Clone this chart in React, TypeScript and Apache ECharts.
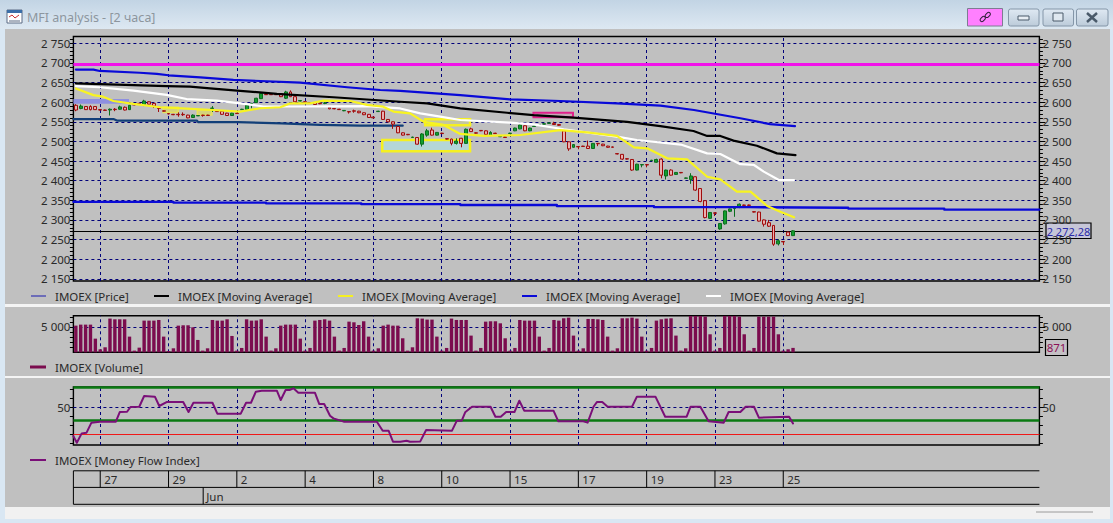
import React, { useEffect, useRef } from "react";
import * as echarts from "echarts";

// ---------- data ----------
const opens = [
  2592,2584,2589,2589,2589,2581,2580,2580,2582,2582,
  2587,2581,2594,2597,2594,2601,2597,2585,2578,2571,
  2569,2569,2569,2567,2561,2565,2567,2567,2584,2577,
  2577,2572,2566,2572,2581,2581,2596,2599,2609,2620,
  2620,2620,2621,2610,2626,2614,2603,2601,2599,2599,
  2597,2597,2587,2584,2582,2578,2576,2578,2577,2573,
  2569,2562,2576,2577,2556,2550,2538,2522,2518,2510,
  2510,2493,2516,2529,2516,2521,2507,2506,2495,2508,
  2495,2532,2522,2528,2527,2515,2521,2512,2511,2520,
  2527,2532,2540,2527,2538,2542,2544,2546,2546,2543,
  2527,2499,2485,2487,2488,2488,2482,2495,2493,2488,
  2486,2469,2467,2456,2454,2427,2440,2441,2451,2447,
  2455,2412,2427,2416,2421,2406,2403,2410,2380,2349,
  2304,2318,2277,2290,2322,2329,2334,2338,2338,2321,
  2320,2300,2293,2286,2239,2245,2269,2260];
const closes = [
  2580,2590,2581,2581,2581,2580,2579,2582,2581,2588,
  2580,2592,2593,2596,2603,2595,2590,2584,2577,2570,
  2568,2568,2568,2560,2567,2566,2566,2566,2585,2576,
  2569,2566,2572,2571,2582,2592,2597,2610,2622,2619,
  2619,2619,2614,2626,2614,2601,2604,2600,2598,2594,
  2596,2598,2583,2583,2581,2579,2575,2577,2573,2568,
  2561,2560,2577,2556,2550,2544,2522,2516,2517,2511,
  2493,2519,2527,2516,2523,2520,2506,2495,2501,2495,
  2531,2525,2521,2527,2518,2523,2520,2513,2510,2521,
  2534,2542,2527,2534,2539,2543,2545,2547,2543,2541,
  2499,2481,2492,2486,2487,2482,2495,2494,2489,2485,
  2485,2468,2455,2455,2427,2442,2441,2440,2452,2454,
  2414,2427,2414,2421,2420,2407,2412,2376,2347,2306,
  2319,2317,2291,2323,2328,2330,2340,2337,2337,2320,
  2297,2289,2284,2238,2247,2244,2260,2272.28];
const lows = [
  2577,2582,2580,2579,2580,2579,2579,2566,2577,2581,
  2579,2580,2592,2595,2590,2594,2585,2575,2576,2569,
  2567,2563,2565,2559,2560,2565,2563,2566,2575,2575,
  2568,2565,2565,2570,2580,2580,2584,2598,2608,2619,
  2619,2619,2613,2608,2613,2600,2602,2599,2598,2593,
  2595,2595,2582,2582,2581,2577,2571,2573,2572,2567,
  2560,2559,2575,2555,2549,2532,2521,2515,2516,2509,
  2492,2487,2512,2515,2515,2519,2505,2490,2492,2485,
  2494,2524,2520,2526,2517,2514,2519,2511,2509,2519,
  2526,2531,2526,2526,2537,2541,2543,2545,2542,2540,
  2498,2476,2484,2480,2486,2481,2481,2488,2488,2484,
  2484,2467,2453,2454,2425,2426,2434,2434,2450,2446,
  2406,2403,2413,2415,2419,2405,2392,2374,2345,2304,
  2303,2310,2275,2288,2320,2308,2330,2336,2336,2319,
  2296,2283,2282,2234,2235,2236,2259,2259];
const highs = [
  2595,2594,2590,2592,2590,2582,2581,2584,2585,2591,
  2589,2593,2596,2598,2606,2602,2598,2586,2579,2572,
  2570,2574,2574,2568,2569,2567,2568,2568,2590,2578,
  2578,2573,2573,2573,2583,2593,2598,2611,2623,2621,
  2621,2621,2622,2629,2630,2615,2605,2602,2600,2600,
  2598,2605,2588,2585,2583,2580,2577,2581,2578,2574,
  2570,2563,2578,2578,2557,2551,2539,2523,2519,2512,
  2511,2521,2532,2535,2524,2522,2508,2507,2508,2509,
  2533,2535,2523,2529,2528,2526,2522,2514,2512,2522,
  2535,2546,2541,2535,2540,2544,2546,2548,2550,2544,
  2530,2500,2493,2488,2489,2502,2496,2496,2494,2489,
  2487,2470,2468,2457,2455,2443,2442,2442,2453,2456,
  2457,2428,2429,2422,2422,2408,2419,2411,2381,2350,
  2320,2319,2292,2324,2329,2331,2342,2339,2339,2322,
  2321,2301,2300,2287,2251,2246,2270,2274];

const volumes = [
  5270,5470,5470,5470,2700,590,990,
  6660,6520,6520,6520,3100,330,920,
  6260,6260,6260,6390,3100,260,790,
  5270,5340,5340,4940,2440,330,790,
  6390,6260,6260,6520,3230,330,860,
  6520,6260,6260,6520,3100,330,790,
  5270,5470,5470,5470,2700,330,860,
  6260,6390,6520,6260,3100,330,860,
  6060,5930,5400,6130,3100,330,790,
  5270,5470,5270,5270,2770,330,990,
  6720,6660,6460,6460,3100,330,860,
  6660,6390,6390,6390,3300,330,860,
  6060,6130,6130,5730,2770,330,860,
  6390,6260,6260,6260,3100,330,860,
  6390,6260,6720,6850,3300,330,790,
  6590,6590,6520,6390,3100,330,790,
  6720,6720,6850,6660,3100,330,860,
  6260,6520,6660,6720,3300,330,790,
  7180,7180,7180,7050,3560,330,860,
  7180,7180,7180,7050,3560,330,860,
  7050,7050,7050,7050,3560,330,600,
  871];

// moving averages and drawn lines: [bar position, value]
const maBlue = [[0,2683],[3.6,2683],[4.9,2679.5],[13.1,2675],[16.6,2672],[19,2668.5],[25.5,2663],[32.3,2656.6],[46,2650],[55.6,2638],[62.4,2631],[66.5,2628.6],[78.8,2618],[89,2607],[99.3,2603],[110.9,2597],[119.8,2591],[126.7,2580],[136.2,2559],[142.3,2544],[147.4,2539]];
const maBlack = [[0,2648],[18.6,2641],[23.4,2639.6],[27.5,2635],[33.7,2629],[41.2,2621],[52.8,2612.5],[66.5,2601],[72,2597],[78.8,2584],[88.4,2573],[93.8,2567],[102,2560.5],[113,2550],[119.8,2539],[126.6,2526.5],[129.4,2514],[132.1,2514],[134.8,2502],[139.6,2489],[143.7,2469.5],[147.5,2465]];
const maWhite = [[0,2641],[4.9,2638],[11.8,2629.5],[18.6,2618.5],[22.7,2608],[28.9,2604],[33.7,2597],[38.5,2589],[43.2,2589],[59.7,2590],[66.5,2584],[70.6,2571.6],[74.7,2563],[78.8,2554.6],[89,2548],[93.8,2543.6],[100,2531],[110.9,2512],[115,2503.6],[124,2492],[129.4,2469.6],[132.1,2468],[136.2,2442],[139,2440],[141,2423],[144.1,2401.6],[147.2,2401.6]];
const maYellow = [[0,2635],[3.6,2618],[5.6,2614],[7.7,2603],[11.8,2595.5],[17.3,2587],[22.7,2583.6],[28.2,2580],[33.7,2576],[37.8,2584.5],[41.9,2587],[44,2597],[48,2597],[50.8,2604],[56.2,2603],[59.7,2593],[63,2588.5],[65.1,2576],[68.5,2571.6],[71.3,2550],[75.4,2542],[78.8,2519],[83.6,2514],[91.1,2516.4],[99.3,2529],[104.8,2523],[110.9,2514],[114.4,2485],[117.1,2482.4],[121.2,2457],[125.3,2454.4],[129.4,2410],[132.1,2403.3],[135.5,2372],[138.3,2372],[141.7,2335.4],[144.4,2321],[147.2,2306.6]];
const trendBlue = [[-0.5,2346],[20,2346],[20,2344],[39,2344],[39,2342],[58.5,2342],[58.5,2340],[78.8,2340],[78.8,2338],[98.6,2338],[98.6,2335],[118.5,2335],[118.5,2332.5],[138.3,2332.5],[138.3,2331],[158.3,2331],[158.3,2329],[178,2329],[178,2326],[197.5,2326]];
const trendTeal = [[-0.5,2557],[7.7,2557],[8.4,2553],[24.8,2553],[25.1,2549],[33.2,2549],[42.2,2546],[50.1,2542],[58.3,2540],[67,2540]];
const mfi = [[-0.5,18],[0.2,10.6],[1.2,21],[2.2,21.8],[3.2,32.9],[4.9,34],[8.2,34],[9,44.7],[10.5,45],[11.2,50.3],[13,50.6],[14,62.5],[16.2,61.8],[17.1,51.4],[18.6,55.8],[22,55.8],[23.1,44.7],[24.1,55],[28,55],[29,42.9],[33.8,42.9],[34.9,55],[35.9,55],[36.9,67.3],[38.1,68.4],[41.2,68.4],[42,58],[43,69.2],[43.8,69.2],[44.6,71],[45.6,66.2],[49,66.2],[49.9,53.6],[50.9,53.6],[52.1,40.6],[52.8,37.7],[54.9,34],[61.7,34],[62.9,24],[64.1,24],[65,11.8],[66.5,11.8],[67.8,12.9],[68.5,11.8],[70.6,12.1],[71.8,24.7],[77.1,24],[78.1,35.1],[79.1,35.1],[79.8,44.4],[81.2,50.6],[85,50.6],[86,39.5],[87.1,39.5],[88.2,44.7],[89.9,44.7],[90.9,57.3],[91.9,46.2],[97.9,46.2],[98.9,34.4],[104,34.4],[104.9,32.9],[106.1,50.6],[106.8,55.8],[107.9,55.8],[109,50.6],[114,50.6],[115,61.8],[118.8,61.8],[120.8,39.5],[125.2,39.5],[126,50.6],[128,50.6],[129.7,34.4],[132.8,32.9],[133.8,44.7],[136.2,44.7],[137.3,50.6],[139,50.6],[140,38.4],[146.2,39.5],[147,32.1]];

const priceTicks = [2150,2200,2250,2300,2350,2400,2450,2500,2550,2600,2650,2700,2750];
const volumeTicks = [5000];
const mfiTicks = [50];
const volumeMinor = [1000,2000,3000,4000,6000,7000];
const mfiMinor = [10,20,30,40,60,70];
const priceMinor: number[] = [];
for (let v = 2150; v <= 2760; v += 10) if (v % 50 !== 0) priceMinor.push(v);

const dateBars = [5,19,33,47,61,75,89,103,117,131,145];
const dateLabels = ["27","29","2","4","8","10","15","17","19","23","25"];
const monthLabel = "Jun";
const monthBar = 26.1;
const lastPrice = 2272.28;
const lastPriceLabel = "2 272,28";
const lastVolumeLabel = "871";
const magentaLevel = 2697;
const mfiUpper = 72.5;
const mfiMiddle = 36;
const mfiLower = 20;
const titleText = "MFI analysis - [2 часа]";

// ---------- layout ----------
const SLOTS = 198;
const LEFT = 73.4;
const WIDTH = 966;
const BAND = WIDTH / SLOTS;
const xOf = (i: number) => LEFT + (i + 0.5) * BAND;
const categories = Array.from({ length: SLOTS }, (_, i) => String(i));
const FONT = '"Noto Sans", sans-serif';
const TEXT = "#2a2a2a";
const NAVY = "#00007a";
const fmt = (v: number) => String(v).replace(/\B(?=(\d{3})+$)/, " ");

function tickAxis(grid: number, pos: string, min: number, max: number, major: number[], minor: number[]) {
  return [
    {
      type: "value", gridIndex: grid, position: pos, min, max, splitLine: { show: false },
      axisLine: { show: false },
      axisTick: { show: true, customValues: major, length: 6, lineStyle: { color: "#000" } },
      axisLabel: { show: true, customValues: major, margin: 3, formatter: fmt, color: TEXT, fontFamily: FONT, fontSize: 11.5, hideOverlap: false },
    },
    {
      type: "value", gridIndex: grid, position: pos, min, max, splitLine: { show: false },
      axisLine: { show: false },
      axisTick: { show: true, customValues: minor, length: 3.5, lineStyle: { color: "#000" } },
      axisLabel: { show: false },
    },
  ];
}

function guideSeries(xAxisIndex: number, yAxisIndex: number, ys: number[], extra: any[], areas: any[] = []) {
  return {
    type: "line", xAxisIndex, yAxisIndex, data: [], symbol: "none", silent: true, z: 1,
    markLine: {
      silent: true, symbol: ["none", "none"], label: { show: false }, animation: false, z: 1,
      lineStyle: { color: NAVY, type: [3, 3], width: 1, opacity: 1 },
      data: [...dateBars.map((b) => ({ xAxis: b })), ...ys.map((y) => ({ yAxis: y })), ...extra],
    },
    markArea: areas.length ? { silent: true, z: 2, animation: false, label: { show: false }, data: areas } : undefined,
  };
}

const box = (x1: number, y1: number, x2: number, y2: number, fill: string, stroke: string, w = 2) => [
  { coord: [x1, y1], itemStyle: { color: fill, borderColor: stroke, borderWidth: w, opacity: 1 } },
  { coord: [x2, y2] },
];

const flat = (yAxis: number, color: string, width: number) => ({ yAxis, lineStyle: { color, width, type: "solid" } });

function lineSeries(name: string, data: number[][], color: string, width: number, yAxisIndex = 0, xAxisIndex = 1, z = 4) {
  return { name, type: "line", data, xAxisIndex, yAxisIndex, symbol: "none", z, lineStyle: { color, width, cap: "round", join: "round" }, itemStyle: { color } };
}

// ---------- window furniture and legends ----------
const line = (x1: number, y1: number, x2: number, y2: number, stroke: string, lineWidth = 1) => ({
  type: "line", shape: { x1, y1, x2, y2 }, style: { stroke, lineWidth }, silent: true,
});
const label = (text: string, x: number, y: number, fill = TEXT, size = 11.5, align = "left") => ({
  type: "text", x, y, silent: true,
  style: { text, fill, font: `${size}px ${FONT}`, textAlign: align, textVerticalAlign: "middle" },
});
const rect = (x: number, y: number, width: number, height: number, style: any, r = 0) => ({
  type: "rect", shape: { x, y, width, height, r }, style, silent: true,
});
const winButton = (x: number, w: number) => rect(x, 9, w, 17, {
  fill: new echarts.graphic.LinearGradient(0, 0, 0, 1, [{ offset: 0, color: "#dfe9f3" }, { offset: 1, color: "#bccbd9" }]),
  stroke: "#8496a8", lineWidth: 1,
}, 2);

const LEGEND_ROW = [
  { text: "IMOEX [Price]", lx: 31, tx: 55, color: "#1a1ab0", width: 1 },
  { text: "IMOEX [Moving Average]", lx: 154, tx: 178, color: "#000000", width: 2 },
  { text: "IMOEX [Moving Average]", lx: 338, tx: 362, color: "#f5f020", width: 2 },
  { text: "IMOEX [Moving Average]", lx: 522, tx: 546, color: "#0a0ad8", width: 2 },
  { text: "IMOEX [Moving Average]", lx: 706, tx: 730, color: "#ffffff", width: 2 },
];

const graphics: any[] = [
  // title bar
  rect(7, 10, 15, 13, { fill: "#ffffff", stroke: "#5a6b84", lineWidth: 1 }),
  rect(7, 10, 15, 3, { fill: "#3a6ea8" }),
  { type: "polyline", silent: true, shape: { points: [[9, 17], [12, 15], [15, 18], [19, 15]] }, style: { stroke: "#c83030", lineWidth: 1, fill: "none" } },
  line(9, 21, 20, 21, "#5a6b84"),
  label(titleText, 27, 17.5, "#8d969e", 12.5),
  // buttons
  rect(967.5, 8.5, 35, 17.5, { fill: "#ff80ff", stroke: "#7d7d92", lineWidth: 1 }),
  { type: "rect", silent: true, shape: { x: 980, y: 17, width: 6, height: 3.6, r: 1.8 }, rotation: Math.PI / 4, originX: 983, originY: 19, style: { fill: "none", stroke: "#30203a", lineWidth: 1 } },
  { type: "rect", silent: true, shape: { x: 985, y: 13, width: 6, height: 3.6, r: 1.8 }, rotation: Math.PI / 4, originX: 988, originY: 15, style: { fill: "none", stroke: "#30203a", lineWidth: 1 } },
  winButton(1008.5, 30.5),
  rect(1018, 16, 11, 4, { fill: "#e8eef4", stroke: "#4a5a6a", lineWidth: 1 }),
  winButton(1043, 30.5),
  rect(1053, 13, 10, 8, { fill: "#dfe8f0", stroke: "#4a5a6a", lineWidth: 1 }),
  winButton(1076.5, 31.5),
  line(1087, 13, 1097, 22, "#4a5a6a", 2.5),
  line(1097, 13, 1087, 22, "#4a5a6a", 2.5),
  line(1036, 512, 1093, 512, "#9a9a9a"),
  // legends
  ...LEGEND_ROW.flatMap((l) => [line(l.lx, 296, l.lx + 15, 296, l.color, l.width), label(l.text, l.tx, 296)]),
  line(30, 367, 46, 367, "#7b0c4e", 3),
  label("IMOEX [Volume]", 55, 367),
  line(30, 460, 46, 460, "#7a0f78", 2),
  label("IMOEX [Money Flow Index]", 55, 460),
  // current value boxes
  rect(1046, 223, 45, 15.5, { fill: "#c6c6d8", stroke: "#000000", lineWidth: 1.2 }),
  label(lastPriceLabel, 1068.5, 231, "#2a2aa8", 11, "center"),
  rect(1045.5, 339.5, 22, 16, { fill: "#c4c0c4", stroke: "#000000", lineWidth: 1.2 }),
  label(lastVolumeLabel, 1056.5, 347.5, "#8c1058", 11.5, "center"),
  // date table
  line(LEFT, 470.8, LEFT + WIDTH, 470.8, "#000"),
  line(LEFT, 487.4, LEFT + WIDTH, 487.4, "#000"),
  line(LEFT, 504.3, LEFT + WIDTH, 504.3, "#000"),
  line(LEFT, 470.8, LEFT, 504.3, "#000"),
  ...dateBars.flatMap((b, k) => [
    line(xOf(b), 470.8, xOf(b), 487.4, "#000"),
    label(dateLabels[k], xOf(b) + 4, 479.5),
  ]),
  line(xOf(monthBar), 487.4, xOf(monthBar), 504.3, "#000"),
  label(monthLabel, xOf(monthBar) + 3, 496.5),
];

// ---------- option ----------
const PRICE_MIN = 2144.4;
const PRICE_MAX = 2767.3;
const VOL_MIN = 0;
const VOL_MAX = 7233;
const MFI_MIN = 8.1;
const MFI_MAX = 72.5;

const hiddenCat = (gridIndex: number) => ({ type: "category", gridIndex, data: categories, show: false, boundaryGap: true });
const hiddenVal = (gridIndex: number) => ({ type: "value", gridIndex, min: -0.5, max: SLOTS - 0.5, show: false, splitLine: { show: false } });
const frame = { show: true, left: LEFT, width: WIDTH, backgroundColor: "transparent", borderColor: "#000", borderWidth: 1.4, containLabel: false };

const option: any = {
  animation: false,
  backgroundColor: "transparent",
  textStyle: { fontFamily: FONT },
  grid: [
    { ...frame, top: 36.5, height: 244.5 },
    { ...frame, top: 315.7, height: 36.6 },
    { ...frame, top: 387, height: 58 },
  ],
  xAxis: [hiddenCat(0), hiddenVal(0), hiddenCat(1), hiddenVal(1), hiddenVal(2)],
  yAxis: [
    ...tickAxis(0, "left", PRICE_MIN, PRICE_MAX, priceTicks, priceMinor),
    ...tickAxis(0, "right", PRICE_MIN, PRICE_MAX, priceTicks, priceMinor),
    ...tickAxis(1, "left", VOL_MIN, VOL_MAX, volumeTicks, volumeMinor),
    ...tickAxis(1, "right", VOL_MIN, VOL_MAX, volumeTicks, volumeMinor),
    ...tickAxis(2, "left", MFI_MIN, MFI_MAX, mfiTicks, mfiMinor),
    ...tickAxis(2, "right", MFI_MIN, MFI_MAX, mfiTicks, mfiMinor),
  ],
  graphic: { elements: graphics },
  series: [
    guideSeries(1, 0, priceTicks, [flat(magentaLevel, "#f212ea", 3), flat(lastPrice, "#000000", 1)], [
      box(-0.5, 2608, 10.9, 2596, "#8f90e0", "#8f90e0", 0),
      box(17.9, 2587, 21, 2573.4, "#d5d27c", "#e6e25a", 1.5),
      box(24.9, 2580, 27.9, 2567.5, "#d5d27c", "#e6e25a", 1.5),
      box(62.8, 2503.6, 80.8, 2474.8, "#b4d6d8", "#f5f020", 2.5),
      box(71.6, 2556.3, 80.8, 2541, "#c4c6a0", "#f5f020", 2.5),
      box(93.8, 2573, 101.9, 2561.4, "#c4a8b4", "#e0208c", 2),
    ]),
    guideSeries(3, 4, volumeTicks, []),
    guideSeries(4, 8, mfiTicks, [flat(mfiUpper, "#0a7a12", 2.5), flat(mfiMiddle, "#0a7a12", 2.5), flat(mfiLower, "#f01818", 1.2)]),
    lineSeries("IMOEX [Trend]", trendTeal, "#123f78", 2.2, 0, 1, 2),
    {
      name: "IMOEX [Price]", type: "candlestick", xAxisIndex: 0, yAxisIndex: 0, barWidth: 3.4, z: 3,
      data: opens.map((o, i) => [o, closes[i], lows[i], highs[i]]),
      itemStyle: { color: "#12a030", color0: "#e8b0b0", borderColor: "#0b6e1e", borderColor0: "#a00c0c", borderWidth: 1 },
    },
    lineSeries("IMOEX [Trend]", trendBlue, "#0a0ad8", 2.3),
    lineSeries("IMOEX [Moving Average]", maBlack, "#000000", 2.2),
    lineSeries("IMOEX [Moving Average]", maBlue, "#0a0ad8", 2.2),
    lineSeries("IMOEX [Moving Average]", maWhite, "#ffffff", 2.2),
    lineSeries("IMOEX [Moving Average]", maYellow, "#f8f420", 2.2, 0, 1, 5),
    {
      name: "IMOEX [Volume]", type: "bar", xAxisIndex: 2, yAxisIndex: 4, data: volumes, barWidth: 3.4, z: 3,
      itemStyle: { color: "#7b0c4e" },
    },
    lineSeries("IMOEX [Money Flow Index]", mfi, "#7a0f78", 2, 8, 4, 4),
  ],
};

export default function App() {
  const ref = useRef<HTMLDivElement>(null);
  useEffect(() => {
    document.body.style.margin = "0";
    const chart = echarts.init(ref.current!, undefined, { renderer: "svg" });
    chart.setOption(option);
    return () => chart.dispose();
  }, []);
  const abs = (left: number, top: number, width: number, height: number, background: string): React.CSSProperties => ({
    position: "absolute", left, top, width, height, background,
  });
  return (
    <div style={{ position: "relative", width: 1113, height: 523, overflow: "hidden", background: "#d9e7f3" }}>
      <div style={abs(0, 0, 1113, 29, "linear-gradient(#c2d4e4, #dde8f2)")} />
      <div style={abs(5, 29, 1105, 478, "#c0c0c0")} />
      <div style={abs(5, 304.3, 1105, 2.4, "#f4f4f4")} />
      <div style={abs(5, 376, 1105, 2.4, "#f4f4f4")} />
      <div style={abs(5, 507, 1105, 12, "#f1f1f1")} />
      <div ref={ref} style={{ position: "absolute", left: 0, top: 0, width: 1113, height: 523 }} />
    </div>
  );
}
